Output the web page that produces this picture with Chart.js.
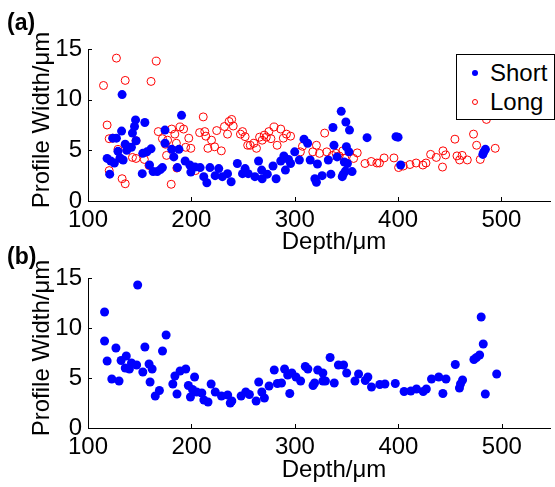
<!DOCTYPE html>
<html>
<head>
<meta charset="utf-8">
<script src="https://cdn.jsdelivr.net/npm/chart.js@4.4.1/dist/chart.umd.min.js"></script>
<style>
  html, body { margin: 0; padding: 0; background: #fff; }
  #wrap { position: relative; width: 555px; height: 487px; overflow: hidden; }
  canvas { position: absolute; left: 0; top: 0; }
  #legend {
    position: absolute; left: 456px; top: 54px; width: 97px; height: 64px;
    border: 1px solid #000; background: #fff;
    font-family: 'Liberation Sans', Arial, sans-serif; font-size: 24px; color: #000;
  }
  .row { position: absolute; left: 0; height: 30px; line-height: 30px; }
  .row span.txt { position: absolute; left: 33px; }
  .mk { position: absolute; left: 15px; top: 12px; width: 6px; height: 6px; border-radius: 50%; box-sizing: border-box; }
</style>
</head>
<body>
<div id="wrap">
  <canvas id="chartA" width="555" height="487"></canvas>
  <canvas id="chartB" width="555" height="487"></canvas>
  <div id="legend">
    <div class="row" style="top:3px"><div class="mk" style="background:#0000ff"></div><span class="txt">Short</span></div>
    <div class="row" style="top:32px"><div class="mk" style="border:1px solid #ff0000"></div><span class="txt">Long</span></div>
  </div>
</div>
<script>
// panel (a) - short profiles
const shortDepthA = [133, 146, 155, 145, 132.5, 143, 124, 127.5, 146.5, 136, 139.5, 142, 137.5, 129, 153, 157, 161,
  118.5, 122, 125.5, 131, 134, 121, 152.5, 159.5, 163, 167, 170, 172, 174.5, 174.5, 181, 183, 186.5, 188, 190.5,
  194, 198.5, 199.5, 203.5, 208.5, 212, 215, 218, 223, 226.5, 230, 235, 238.5, 244.5, 249.5, 252, 255, 261.5,
  265, 268, 268.5, 273.5, 279, 282, 286.5, 289.5, 291, 294, 296, 300, 304.5, 309, 312.5, 315, 319.5, 321, 322,
  326.5, 332.5, 335, 337, 338, 341, 345, 349.5, 353, 350, 352.5, 348, 351, 347, 349, 355.5, 346, 370, 398, 400,
  402.5, 482, 484.5, 483];
const shortWidthA = [10.5, 8.0, 7.75, 7.35, 6.9, 6.7, 6.2, 6.2, 5.95, 5.6, 5.3, 5.3, 5.0, 4.9, 4.7, 4.85, 5.15,
  4.2, 3.95, 3.75, 4.25, 4.05, 2.65, 2.7, 3.55, 2.9, 2.9, 3.1, 3.3, 7.0, 5.7, 5.1, 4.35, 3.3, 5.1, 8.45,
  3.95, 3.55, 2.85, 3.35, 3.3, 2.4, 1.8, 3.3, 2.5, 3.2, 2.4, 2.7, 1.9, 3.7, 2.7, 3.2, 2.7, 2.4,
  3.95, 3.05, 2.2, 2.65, 3.45, 2.2, 3.95, 4.45, 3.05, 4.1, 3.7, 4.85, 4.05, 6.1, 5.7, 4.05, 2.2, 1.85, 3.65,
  2.5, 4.05, 2.65, 7.25, 5.5, 4.35, 8.85, 7.8, 7.0, 5.35, 4.85, 3.85, 3.7, 2.65, 2.95, 2.9, 2.4, 6.25, 6.35, 6.3,
  3.55, 4.6, 5.1, 4.85];

// panel (a) - long profiles
const longDepthA = [127.5, 166, 115, 136, 161, 118.5, 120.5, 124, 129, 131, 120.5, 133, 136, 143, 146.5, 146.5,
  154.5, 159, 168, 172, 175, 176, 177, 181, 184, 185.5, 189, 192.5, 197.5, 194.5, 199.5, 186, 180.5, 204, 211.5,
  208, 213, 214, 216, 219.5, 222.5, 224.5, 229, 232, 235, 236.5, 239, 240.5, 247.5, 249.5, 254.5, 252, 257, 260.5,
  263, 266, 268.5, 270.5, 272.5, 275, 277, 280, 283, 286.5, 289, 292, 296, 305.5, 307.5, 317.5, 321, 324, 329,
  331, 336.5, 340, 343, 346.5, 348.5, 357, 360.5, 368, 374, 379.5, 382, 386.5, 396, 400.5, 405, 411.5, 417.5,
  424, 427, 431.5, 437, 443, 443.5, 446, 455, 457, 459.5, 462, 467, 473, 476, 479.5, 485.5, 494];
const longWidthA = [14.1, 13.8, 11.4, 11.9, 11.8, 7.5, 6.15, 6.2, 5.1, 4.2, 3.0, 2.2, 1.7, 4.3, 4.2, 5.95,
  4.1, 3.5, 6.85, 6.15, 5.6, 4.5, 6.0, 7.1, 6.6, 5.7, 7.3, 7.1, 6.2, 5.3, 5.2, 3.25, 1.65, 3.0, 8.3,
  6.75, 6.85, 6.4, 5.2, 6.0, 5.35, 6.95, 4.95, 7.35, 6.6, 7.85, 8.05, 7.4, 6.6, 6.85, 5.5, 6.35, 5.5, 5.7,
  5.2, 6.3, 6.0, 6.5, 6.3, 6.85, 6.15, 7.3, 5.5, 7.1, 6.2, 6.6, 6.4, 4.85, 5.4, 4.85, 5.5, 4.7, 6.7,
  4.85, 4.5, 4.7, 4.45, 4.95, 4.2, 4.2, 4.75, 3.7, 3.9, 3.75, 3.75, 4.25, 4.25, 3.3, 3.45, 3.6, 3.75,
  3.55, 3.75, 4.6, 4.3, 3.35, 4.95, 4.55, 6.1, 4.45, 4.05, 4.5, 4.05, 6.6, 5.5, 4.1, 8.05, 5.2];

// panel (b)
const depthB = [148, 116, 116, 118.5, 127, 123, 130, 132, 137, 136, 140, 142, 147, 153, 155, 159, 162, 160,
  165, 169, 172, 175.5, 182, 184, 186, 189, 194.5, 203, 197, 199, 201, 205, 210, 212, 216, 219, 223, 229, 235,
  237.5, 239, 248, 252.5, 256, 262.5, 265, 268, 270.5, 275, 280, 283, 287, 290, 293, 295, 297, 301, 305.5,
  310, 312.5, 317.5, 319, 322, 327, 327, 329.5, 334, 338, 342, 347, 350, 358, 361.5, 368, 370.5, 374, 382,
  387, 397, 405.5, 412, 417.5, 424, 427, 432, 439, 446, 443, 455, 459, 460, 462, 473, 475.5, 478.5, 480,
  482, 484, 495];
const widthB = [14.3, 11.6, 8.7, 6.7, 8.0, 4.9, 4.7, 6.75, 7.2, 6.0, 5.9, 6.5, 6.3, 5.6, 8.1, 6.4, 5.9, 4.6,
  3.2, 3.75, 7.7, 9.3, 4.4, 5.2, 3.4, 5.7, 5.9, 5.1, 4.25, 3.1, 3.85, 3.6, 3.5, 2.8, 2.6, 4.4, 3.6, 3.2, 3.3,
  2.5, 2.7, 3.2, 3.6, 3.35, 2.7, 4.6, 3.6, 3.0, 4.2, 5.8, 4.45, 4.5, 5.9, 5.3, 3.45, 5.5, 5.1, 4.7,
  6.15, 5.9, 4.25, 4.5, 5.8, 5.5, 4.7, 4.7, 7.05, 4.5, 6.3, 6.3, 5.5, 4.7, 5.4, 4.75, 5.1, 4.1, 4.35,
  4.4, 4.45, 3.65, 3.7, 3.9, 3.65, 3.9, 4.9, 5.1, 4.9, 3.45, 6.35, 4.0, 4.4, 4.8, 6.85, 7.05, 7.3, 11.1,
  8.4, 3.4, 5.4];

const xTicks = [100, 200, 300, 400, 500];
const yTicks = [0, 5, 10, 15];

const FONT = "'Liberation Sans', Arial, sans-serif";

function pts(xs, ys) {
    return xs.map((x, i) => ({ x: x, y: ys[i] }));
}

// draws inward tick marks and the text labels of each panel
const panelText = {
    id: 'panelText',
    afterDraw(chart, args, opts) {
        const ctx = chart.ctx;
        const area = chart.chartArea;
        const xs = chart.scales.x, ys = chart.scales.y;
        ctx.save();
        ctx.strokeStyle = '#000';
        ctx.lineWidth = 1;
        ctx.beginPath();
        xTicks.forEach(v => {
            const px = Math.round(xs.getPixelForValue(v)) + 0.5;
            ctx.moveTo(px, area.bottom);
            ctx.lineTo(px, area.bottom - 4);
        });
        yTicks.forEach(v => {
            const py = Math.round(ys.getPixelForValue(v)) + 0.5;
            ctx.moveTo(area.left, py);
            ctx.lineTo(area.left + 4, py);
        });
        ctx.stroke();
        ctx.fillStyle = '#000';
        (opts.items || []).forEach(it => {
            ctx.save();
            ctx.font = it.font;
            ctx.textAlign = it.align || 'center';
            ctx.textBaseline = it.baseline || 'middle';
            ctx.translate(it.x, it.y);
            if (it.rot) ctx.rotate(it.rot);
            ctx.fillText(it.text, 0, 0);
            ctx.restore();
        });
        ctx.restore();
    }
};

function makeOptions(padTop, padBottom, items) {
    return {
        responsive: false,
        animation: false,
        layout: { padding: { top: padTop, bottom: padBottom, left: 0, right: 0 } },
        plugins: {
            legend: { display: false },
            tooltip: { enabled: false },
            panelText: { items: items }
        },
        scales: {
            x: {
                type: 'linear',
                min: 100,
                max: 547,
                afterFit: s => { s.height = 44; },
                afterBuildTicks: s => { s.ticks = xTicks.map(v => ({ value: v })); },
                grid: { display: false, drawTicks: false },
                border: { display: true, color: '#000', width: 1 },
                ticks: { color: '#000', padding: 5, maxRotation: 0, font: { family: FONT, size: 24 } }
            },
            y: {
                type: 'linear',
                min: 0,
                max: 15,
                afterFit: s => { s.width = 88; },
                afterBuildTicks: s => { s.ticks = yTicks.map(v => ({ value: v })); },
                grid: { display: false, drawTicks: false },
                border: { display: true, color: '#000', width: 1 },
                ticks: { color: '#000', padding: 6, font: { family: FONT, size: 24 } }
            }
        }
    };
}

const titleFont = '24px ' + FONT;
const boldFont = 'bold 23px ' + FONT;

new Chart(document.getElementById('chartA'), {
    type: 'scatter',
    data: {
        datasets: [
            {
                label: 'Short',
                data: pts(shortDepthA, shortWidthA),
                pointRadius: 4.5,
                pointBackgroundColor: '#0000ff',
                pointBorderColor: '#0000ff',
                pointBorderWidth: 0
            },
            {
                label: 'Long',
                data: pts(longDepthA, longWidthA),
                pointRadius: 4,
                pointBackgroundColor: 'rgba(0,0,0,0)',
                pointBorderColor: '#ff0000',
                pointBorderWidth: 1
            }
        ]
    },
    options: makeOptions(49, 242, [
        { text: '(a)', x: 7, y: 30, align: 'left', baseline: 'alphabetic', font: boldFont },
        { text: 'Profile Width/\u03bcm', x: 42, y: 120, rot: -Math.PI / 2, font: titleFont },
        { text: 'Depth/\u03bcm', x: 334, y: 242, font: titleFont }
    ]),
    plugins: [panelText]
});

new Chart(document.getElementById('chartB'), {
    type: 'scatter',
    data: {
        datasets: [
            {
                label: 'All',
                data: pts(depthB, widthB),
                pointRadius: 4.5,
                pointBackgroundColor: '#0000ff',
                pointBorderColor: '#0000ff',
                pointBorderWidth: 0
            }
        ]
    },
    options: makeOptions(278, 15, [
        { text: '(b)', x: 7, y: 264, align: 'left', baseline: 'alphabetic', font: boldFont },
        { text: 'Profile Width/\u03bcm', x: 42, y: 348, rot: -Math.PI / 2, font: titleFont },
        { text: 'Depth/\u03bcm', x: 334, y: 470, font: titleFont }
    ]),
    plugins: [panelText]
});
</script>
</body>
</html>
